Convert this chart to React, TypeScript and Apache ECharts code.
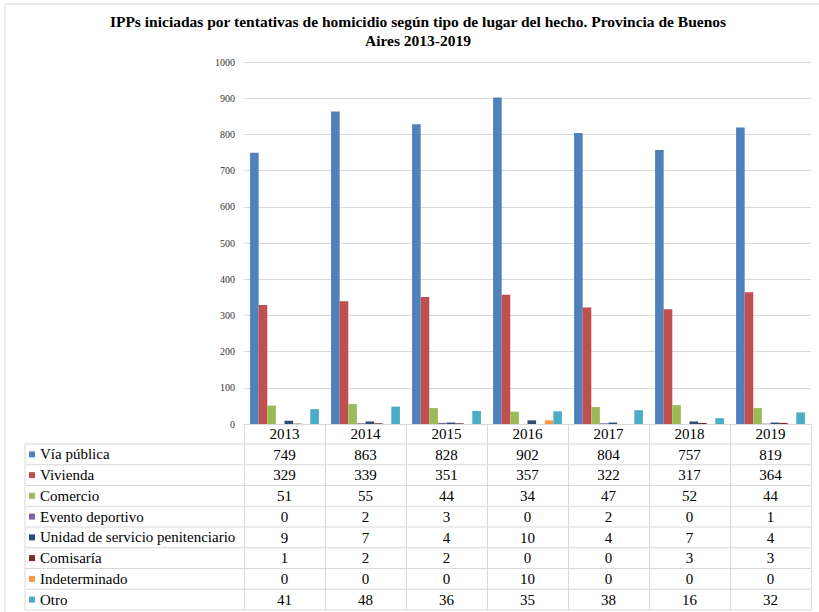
import React, { useEffect, useRef } from "react";
import * as echarts from "echarts";

const years = ["2013", "2014", "2015", "2016", "2017", "2018", "2019"];
const seriesNames = [
  "Vía pública",
  "Vivienda",
  "Comercio",
  "Evento deportivo",
  "Unidad de servicio penitenciario",
  "Comisaría",
  "Indeterminado",
  "Otro",
];
const viaPublica = [749, 863, 828, 902, 804, 757, 819];
const vivienda = [329, 339, 351, 357, 322, 317, 364];
const comercio = [51, 55, 44, 34, 47, 52, 44];
const eventoDeportivo = [0, 2, 3, 0, 2, 0, 1];
const unidadPenitenciaria = [9, 7, 4, 10, 4, 7, 4];
const comisaria = [1, 2, 2, 0, 0, 3, 3];
const indeterminado = [0, 0, 0, 10, 0, 0, 0];
const otro = [41, 48, 36, 35, 38, 16, 32];
const yTicks = { min: 0, max: 1000, interval: 100 };

const allSeries = [
  viaPublica,
  vivienda,
  comercio,
  eventoDeportivo,
  unidadPenitenciaria,
  comisaria,
  indeterminado,
  otro,
];
const colors = [
  "#4F81BD",
  "#C0504D",
  "#9BBB59",
  "#8064A2",
  "#2C4D75",
  "#772C2A",
  "#F79646",
  "#4BACC6",
];

const W = 819;
const H = 612;
const GRID_LEFT = 244;
const GRID_RIGHT = 811;
const GRID_TOP = 62;
const AXIS_Y = 424;
const HEADER_H = 20;
const ROW_H = 20.75;
const TABLE_LEFT = 25;
const LINE = "#D9D9D9";
const SERIF = "Liberation Serif";

export default function App() {
  const ref = useRef<HTMLDivElement>(null);
  useEffect(() => {
    document.body.style.margin = "0";
    if (!ref.current) return;
    const chart = echarts.init(ref.current, undefined, { renderer: "svg" });

    const tableTop = AXIS_Y + HEADER_H;
    const rowAxes = allSeries.map((vals, i) => ({
      type: "category" as const,
      gridIndex: 0,
      position: "bottom" as const,
      offset: HEADER_H + ROW_H * i,
      data: years,
      axisLine: { show: false },
      axisTick: {
        show: true,
        interval: 0,
        length: ROW_H,
        lineStyle: { color: LINE, width: 1 },
      },
      axisLabel: {
        interval: 0,
        margin: 3,
        fontSize: 15,
        fontFamily: SERIF,
        color: "#000",
        formatter: (_v: string, idx: number) => String(vals[idx]),
      },
      splitLine: { show: false },
    }));

    const graphics: any[] = [
      {
        type: "polyline",
        shape: {
          points: [
            [5, H],
            [5, 4],
            [W, 4],
          ],
        },
        style: { stroke: LINE, fill: "none", lineWidth: 1 },
        silent: true,
      },
      {
        type: "line",
        shape: { x1: TABLE_LEFT, y1: tableTop, x2: TABLE_LEFT, y2: tableTop + ROW_H * 8 },
        style: { stroke: LINE, lineWidth: 1 },
        silent: true,
      },
    ];
    for (let k = 0; k <= allSeries.length; k++) {
      const y = tableTop + ROW_H * k;
      graphics.push({
        type: "line",
        shape: { x1: TABLE_LEFT, y1: y, x2: GRID_RIGHT, y2: y },
        style: { stroke: LINE, lineWidth: 1 },
        silent: true,
      });
    }

    chart.setOption({
      animation: false,
      backgroundColor: "#fff",
      color: colors,
      textStyle: { fontFamily: SERIF },
      title: {
        text: "IPPs iniciadas por tentativas de homicidio según tipo de lugar del hecho. Provincia de Buenos\nAires 2013-2019",
        left: 413,
        textAlign: "center",
        top: 7,
        textStyle: {
          fontFamily: SERIF,
          fontWeight: "bold",
          fontSize: 15.5,
          color: "#000",
          lineHeight: 19,
        },
      },
      legend: {
        orient: "vertical",
        left: 29,
        top: tableTop,
        itemGap: 0,
        itemWidth: 6,
        itemHeight: 6,
        icon: "rect",
        padding: 0,
        textStyle: {
          fontFamily: SERIF,
          fontSize: 15,
          color: "#000",
          lineHeight: ROW_H,
        },
        data: seriesNames.map((n) => ({
          name: n,
          textStyle: { fontFamily: SERIF, fontSize: 15, color: "#000", lineHeight: ROW_H },
        })),
      },
      grid: {
        left: GRID_LEFT,
        right: W - GRID_RIGHT,
        top: GRID_TOP,
        bottom: H - AXIS_Y,
        containLabel: false,
      },
      xAxis: [
        {
          type: "category",
          data: years,
          position: "bottom",
          axisLine: { show: true, lineStyle: { color: LINE, width: 1 } },
          axisTick: {
            show: true,
            interval: 0,
            length: HEADER_H,
            lineStyle: { color: LINE, width: 1 },
          },
          axisLabel: {
            interval: 0,
            margin: 2,
            fontSize: 15,
            fontFamily: SERIF,
            color: "#000",
          },
        },
        ...rowAxes,
      ],
      yAxis: {
        type: "value",
        min: yTicks.min,
        max: yTicks.max,
        interval: yTicks.interval,
        axisLine: { show: false },
        axisTick: { show: false },
        axisLabel: {
          fontSize: 10,
          fontFamily: SERIF,
          color: "#333",
          margin: 9,
          formatter: (v: number) => String(v),
        },
        splitLine: { lineStyle: { color: LINE, width: 1 } },
      },
      series: allSeries.map((vals, i) => ({
        name: seriesNames[i],
        type: "bar",
        xAxisIndex: 0,
        data: vals,
        barGap: "0%",
        barCategoryGap: "15%",
        itemStyle: { color: colors[i] },
      })),
      graphic: graphics,
    });
    return () => chart.dispose();
  }, []);
  return <div ref={ref} style={{ width: W, height: H }} />;
}
